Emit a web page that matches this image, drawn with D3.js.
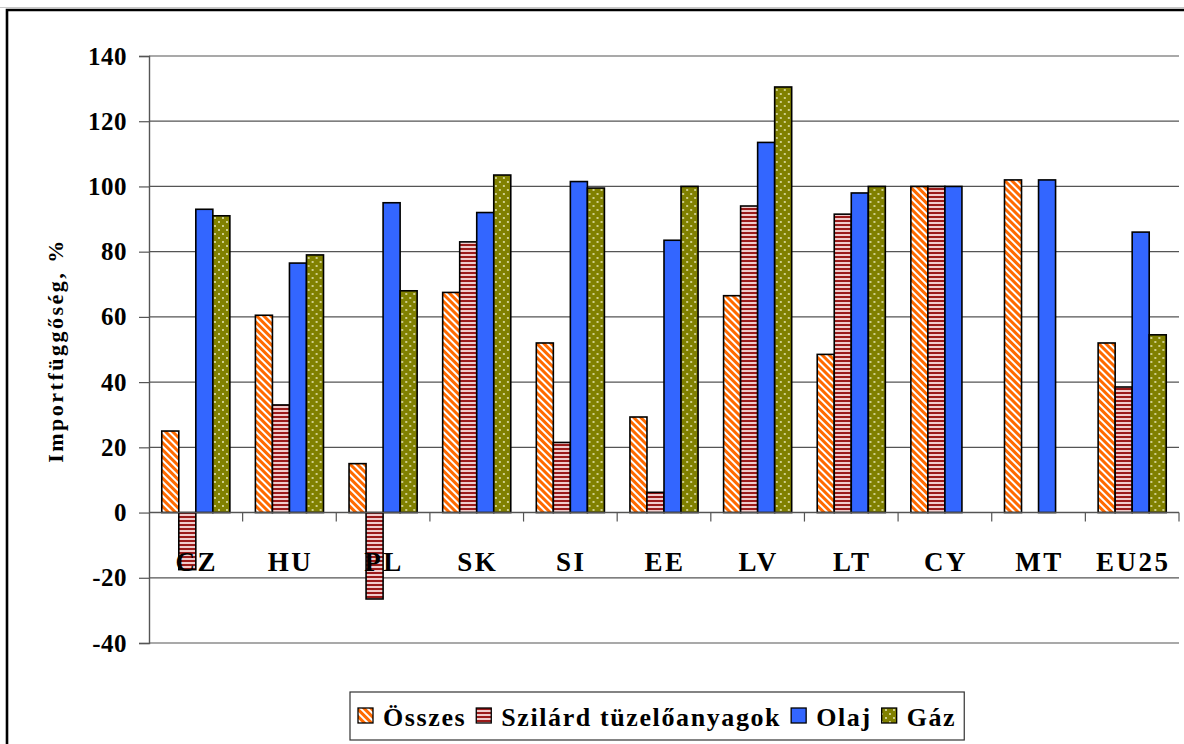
<!DOCTYPE html>
<html lang="hu">
<head>
<meta charset="UTF-8">
<title>Importfüggőség</title>
<script src="https://d3js.org/d3.v7.min.js"></script>
<style>
    body { margin: 0; background: white; }
    svg { display: block; }
    text { font-family: "Liberation Serif", "Times New Roman", Tinos, "DejaVu Serif", serif; font-weight: bold; }
    .tick-lbl { font-size: 25px; letter-spacing: 0.5px; }
    .cat-lbl { font-size: 27px; letter-spacing: 2.5px; }
    .leg-lbl { font-size: 26px; letter-spacing: 1.6px; }
    .y-title { font-size: 22px; letter-spacing: 2.5px; }
</style>
</head>
<body>
<svg id="chart" width="1184" height="744"></svg>
<script>
    // data
    let categories = ["CZ", "HU", "PL", "SK", "SI", "EE", "LV", "LT", "CY", "MT", "EU25"];
    let seriesNames = ["Összes", "Szilárd tüzelőanyagok", "Olaj", "Gáz"];
    let osszes  = [25, 60.5, 15, 67.5, 52, 29.3, 66.5, 48.5, 100, 102, 52];
    let szilard = [-17.5, 33, -26.5, 83, 21.5, 6.2, 94, 91.5, 100, null, 38.5];
    let olaj    = [93, 76.5, 95, 92, 101.5, 83.5, 113.5, 98, 100, 102, 86];
    let gaz     = [91, 79, 68, 103.5, 99.5, 100, 130.5, 100, null, null, 54.5];
    let yTicks  = [-40, -20, 0, 20, 40, 60, 80, 100, 120, 140];
    let yTitle  = "Importfüggőség, %";

    let seriesValues = [osszes, szilard, olaj, gaz];
    let fills = ["url(#p-osszes)", "url(#p-szilard)", "#3366ff", "url(#p-gaz)"];

    let svg = d3.select("#chart");
    let mLeft = 149, mRight = 1179, mTop = 56, mBottom = 643;

    // patterns
    let defs = svg.append("defs");
    let p1 = defs.append("pattern").attr("id", "p-osszes").attr("patternUnits", "userSpaceOnUse")
        .attr("width", 5).attr("height", 5).attr("patternTransform", "rotate(-45)");
    p1.append("rect").attr("width", 5).attr("height", 5).attr("fill", "white");
    p1.append("rect").attr("width", 3).attr("height", 5).attr("fill", "#ff6a00");

    let p2 = defs.append("pattern").attr("id", "p-szilard").attr("patternUnits", "userSpaceOnUse")
        .attr("width", 4).attr("height", 4);
    p2.append("rect").attr("width", 4).attr("height", 4).attr("fill", "#f0cccc");
    p2.append("rect").attr("width", 4).attr("height", 2).attr("fill", "#9a1a1a");

    let p3 = defs.append("pattern").attr("id", "p-gaz").attr("patternUnits", "userSpaceOnUse")
        .attr("width", 8).attr("height", 8);
    p3.append("rect").attr("width", 8).attr("height", 8).attr("fill", "#808000");
    p3.append("circle").attr("cx", 2).attr("cy", 2).attr("r", 0.9).attr("fill", "#f4f4d0");
    p3.append("circle").attr("cx", 6).attr("cy", 6).attr("r", 0.9).attr("fill", "#f4f4d0");

    // frame
    svg.append("line").attr("x1", 0).attr("x2", 1184).attr("y1", 7.5).attr("y2", 7.5)
        .attr("stroke", "#c8c8c8").attr("stroke-width", 1);
    svg.append("path").attr("d", "M7,744 V10 H1184").attr("fill", "none")
        .attr("stroke", "black").attr("stroke-width", 2.6);

    let y = d3.scaleLinear().domain([-40, 140]).range([mBottom, mTop]);
    let x0 = d3.scaleBand().domain(categories).range([mLeft, mRight]).padding(0);
    let x1 = d3.scaleBand().domain(seriesNames).range([0, x0.bandwidth()])
        .paddingInner(0).paddingOuter(0.75);

    // grid
    svg.append("g").selectAll("line").data(yTicks.filter(d => d !== 0)).join("line")
        .attr("x1", mLeft).attr("x2", mRight)
        .attr("y1", d => y(d)).attr("y2", d => y(d))
        .attr("stroke", "#555").attr("stroke-width", 1.2);

    // y axis
    let yAxis = svg.append("g").attr("transform", `translate(${mLeft},0)`)
        .call(d3.axisLeft(y).tickValues(yTicks).tickSize(10).tickPadding(12).tickFormat(d => String(d)));
    yAxis.select(".domain").attr("stroke", "#555").attr("stroke-width", 1.4);
    yAxis.selectAll(".tick line").attr("stroke", "#555").attr("stroke-width", 1.2);
    yAxis.selectAll(".tick text").attr("class", "tick-lbl").attr("fill", "black");

    // bars
    let groups = svg.append("g").selectAll("g").data(categories).join("g")
        .attr("transform", d => `translate(${x0(d)},0)`);
    groups.selectAll("rect")
        .data((c, i) => seriesNames.map((s, k) => ({s: s, k: k, v: seriesValues[k][i]})).filter(d => d.v !== null))
        .join("rect")
        .attr("x", d => x1(d.s))
        .attr("width", x1.bandwidth())
        .attr("y", d => y(Math.max(0, d.v)))
        .attr("height", d => Math.abs(y(d.v) - y(0)))
        .attr("fill", d => fills[d.k])
        .attr("stroke", "black").attr("stroke-width", 1.6);

    // x axis at zero
    svg.append("line").attr("x1", mLeft).attr("x2", mRight).attr("y1", y(0)).attr("y2", y(0))
        .attr("stroke", "#555").attr("stroke-width", 1.4);
    let bounds = categories.map(c => x0(c)).concat([mRight]).slice(1);
    svg.append("g").selectAll("line").data(bounds).join("line")
        .attr("x1", d => d).attr("x2", d => d)
        .attr("y1", y(0)).attr("y2", y(0) + 9)
        .attr("stroke", "#555").attr("stroke-width", 1.2);

    svg.append("g").selectAll("text").data(categories).join("text")
        .attr("class", "cat-lbl")
        .attr("x", d => x0(d) + x0.bandwidth() / 2 + 1)
        .attr("y", 571)
        .attr("text-anchor", "middle")
        .text(d => d);

    // y title
    svg.append("text").attr("class", "y-title")
        .attr("transform", `translate(63,${(y(80) + y(20)) / 2 + 1}) rotate(-90)`)
        .attr("text-anchor", "middle")
        .text(yTitle);

    // legend
    let leg = svg.append("g");
    let lx = 358, ly = 716;
    let box = leg.append("rect").attr("x", 350).attr("y", 692).attr("height", 48)
        .attr("fill", "white").attr("stroke", "#333").attr("stroke-width", 1.2);
    seriesNames.forEach((s, k) => {
        leg.append("rect").attr("x", lx).attr("y", ly - 8).attr("width", 15).attr("height", 15)
            .attr("fill", fills[k]).attr("stroke", "black").attr("stroke-width", 1.3);
        let t = leg.append("text").attr("class", "leg-lbl").attr("x", lx + 25).attr("y", ly + 10).text(s);
        lx += 25 + t.node().getComputedTextLength() + 10;
    });
    box.attr("width", lx - 350 - 2);
</script>
</body>
</html>
